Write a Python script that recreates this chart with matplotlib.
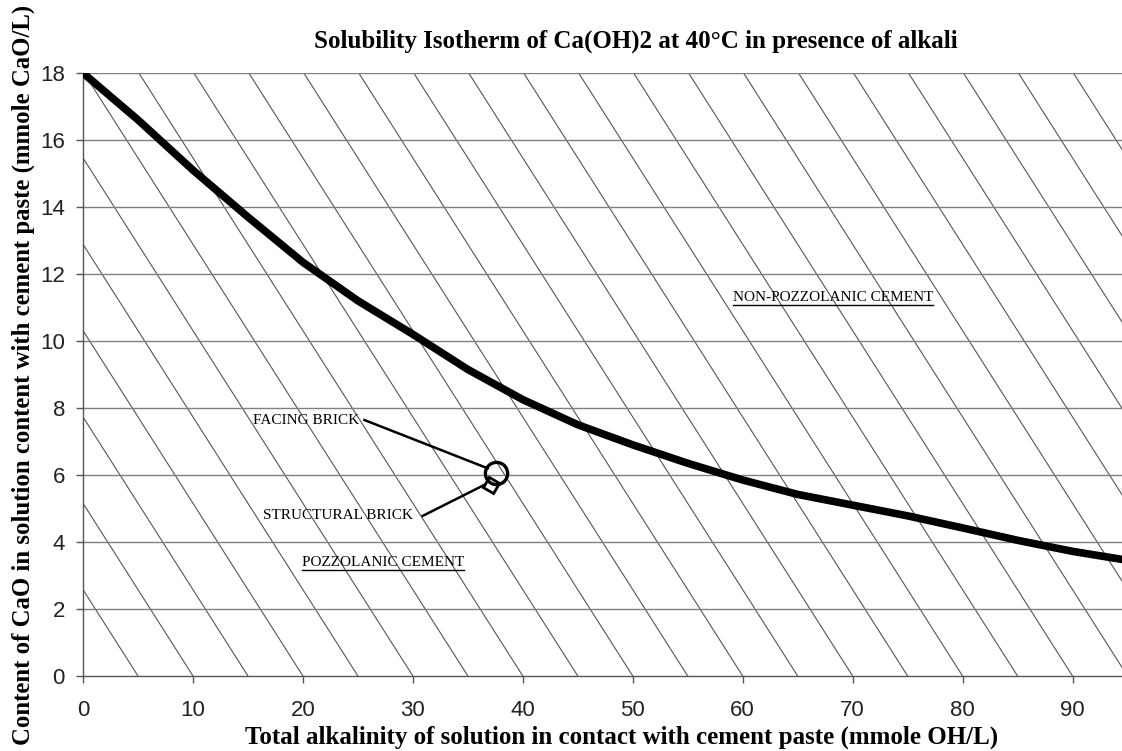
import numpy as np
import matplotlib
matplotlib.use("Agg")
import matplotlib.pyplot as plt

# solubility isotherm
alk = [0, 5, 10, 15, 20, 25, 30, 35, 40, 45, 50, 55, 60, 65, 70, 75, 80, 85, 90, 94.5]
cao = [18.0, 16.6, 15.1, 13.7, 12.35, 11.2, 10.2, 9.15, 8.25, 7.5, 6.9, 6.35, 5.85,
       5.42, 5.1, 4.78, 4.42, 4.05, 3.72, 3.48]

# samples
facing = (37.6, 6.05)
structural = (37.1, 5.7)

xticks = list(range(0, 100, 10))
yticks = list(range(0, 20, 2))
hatch_x0 = list(range(5, 135, 5))  # where each hatch line meets y=0
hatch_run = 1.94                    # x units per y unit along a hatch line

serif = "Liberation Serif"
sans = "Liberation Sans"

fig = plt.figure(figsize=(11.22, 7.51), dpi=100)
ax = fig.add_axes([0.074, 0.0999, 0.926, 0.8029])
ax.set_xlim(0, 94.5)
ax.set_ylim(0, 18)

# diagonal hatching over the whole plot
for c in hatch_x0:
    xs = np.array([c - 18 * hatch_run, c])
    ax.plot(xs, (c - xs) / hatch_run, color="#555555", lw=0.8, zorder=1)

for y in yticks[1:]:
    ax.axhline(y, color="#808080", lw=1.0, zorder=1)

ax.plot(alk, cao, color="black", lw=5.5, solid_capstyle="round", zorder=3)

ax.plot(*facing, marker="o", ms=16, mfc="none", mec="black", mew=2.4, zorder=4)
ax.plot(*structural, marker=(4, 0, 15), ms=12, mfc="none", mec="black", mew=2.0, zorder=4)

# labels for the two samples, with leader lines from the end of the text
ax.text(15.5, 7.64, "FACING BRICK", fontsize=11, family=serif, va="center", ha="left")
ax.plot([25.6, 36.8], [7.64, 6.2], color="black", lw=1.8, zorder=4)
ax.text(16.4, 4.78, "STRUCTURAL BRICK", fontsize=11, family=serif, va="center", ha="left")
ax.plot([30.9, 36.6], [4.78, 5.72], color="black", lw=1.8, zorder=4)

t1 = ax.text(19.9, 3.4, "POZZOLANIC CEMENT", fontsize=11, family=serif,
             va="center", ha="left", zorder=5)
t2 = ax.text(59.1, 11.3, "NON-POZZOLANIC CEMENT", fontsize=11, family=serif,
             va="center", ha="left", zorder=5)

# underline the region labels
fig.canvas.draw()
r = fig.canvas.get_renderer()
inv = ax.transData.inverted()
for t in (t1, t2):
    bb = t.get_window_extent(r)
    (xa, ya), (xb, yb) = inv.transform([(bb.x0, bb.y0 - 1), (bb.x1, bb.y0 - 1)])
    ax.plot([xa, xb], [ya, yb], color="black", lw=1.0, zorder=5)

ax.set_xticks(xticks)
ax.set_yticks(yticks)
ax.tick_params(axis="both", labelsize=16, length=5, width=1, color="#555555",
               labelcolor="#222222")
ax.tick_params(axis="x", pad=12)
ax.tick_params(axis="y", pad=8)
for lab in ax.get_xticklabels() + ax.get_yticklabels():
    lab.set_family(sans)

for s in ("top", "right"):
    ax.spines[s].set_visible(False)
for s in ("left", "bottom"):
    ax.spines[s].set_color("#555555")
    ax.spines[s].set_linewidth(1.0)

ax.set_xlabel("Total alkalinity of solution in contact with cement paste (mmole OH/L)",
              fontsize=18, family=serif, fontweight="bold")
ax.xaxis.set_label_coords(0.518, -0.083)
ax.set_ylabel("Content of CaO in solution content with cement paste (mmole CaO/L)",
              fontsize=17.8, family=serif, fontweight="bold", labelpad=4)
fig.text(0.567, 0.945, "Solubility Isotherm of Ca(OH)2 at 40°C in presence of alkali",
         fontsize=18, family=serif, fontweight="bold", ha="center", va="center")

fig.savefig("out.png", dpi=100)
